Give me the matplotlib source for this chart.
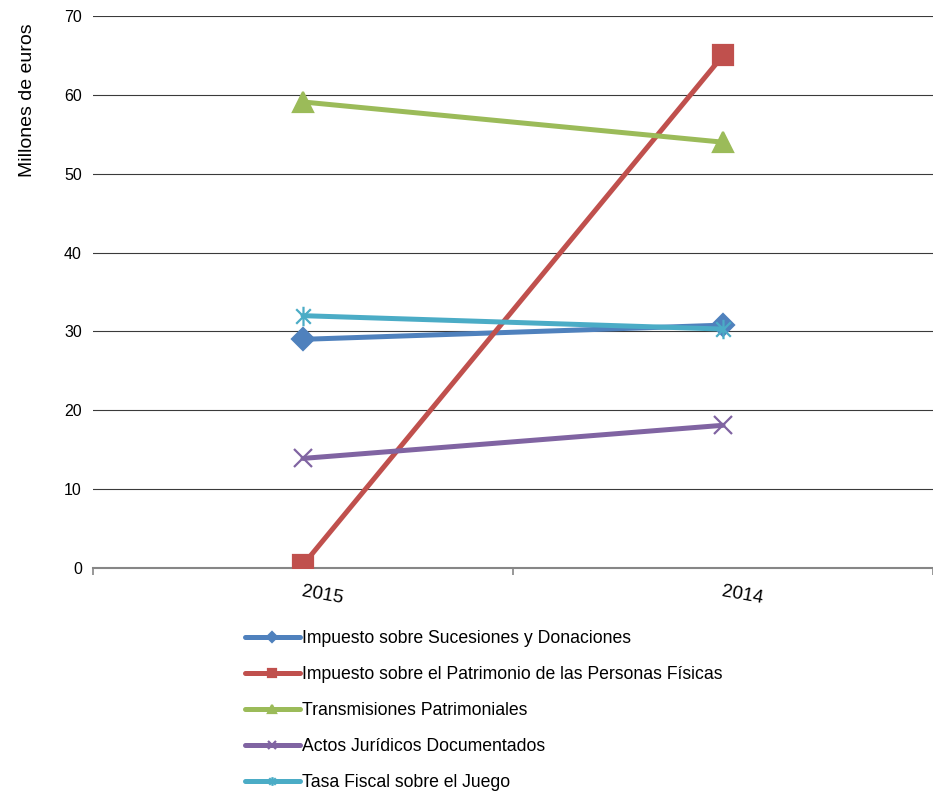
#!/usr/bin/env python3
"""Recaudación por impuesto, 2015 frente a 2014 (millones de euros)."""

import matplotlib
matplotlib.use("Agg")
import matplotlib.pyplot as plt
import numpy as np
from matplotlib.path import Path

plt.rcParams["font.family"] = ["Liberation Sans", "DejaVu Sans"]

years = ["2015", "2014"]
sucesiones = [29.0, 30.8]
patrimonio = [0.4, 65.0]
transmisiones = [59.1, 54.0]
actos_juridicos = [13.9, 18.1]
juego = [32.0, 30.3]

labels = [
    "Impuesto sobre Sucesiones y Donaciones",
    "Impuesto sobre el Patrimonio de las Personas Físicas",
    "Transmisiones Patrimoniales",
    "Actos Jurídicos Documentados",
    "Tasa Fiscal sobre el Juego",
]
colors = ["#4F81BD", "#C0504D", "#9BBB59", "#8064A2", "#4BACC6"]

# Excel-style star: X plus a vertical stroke
star = Path(
    [(0, -1), (0, 1), (-0.75, -0.75), (0.75, 0.75), (-0.75, 0.75), (0.75, -0.75)],
    [Path.MOVETO, Path.LINETO, Path.MOVETO, Path.LINETO, Path.MOVETO, Path.LINETO],
)

series = [sucesiones, patrimonio, transmisiones, actos_juridicos, juego]
markers = ["D", "s", "^", "x", star]
sizes = [11.5, 14, 14, 13, 14]

fig = plt.figure(figsize=(9.33, 7.97), dpi=100)
ax = fig.add_axes([0.0997, 0.2873, 0.9003, 0.6926])

x = np.arange(len(years)) + 0.5
handles = []
for vals, lab, col, mk, ms in zip(series, labels, colors, markers, sizes):
    (h,) = ax.plot(x, vals, color=col, lw=3.6, marker=mk, ms=ms, mew=1.6,
                   mec=col, mfc=col, label=lab, solid_capstyle="round", zorder=3)
    handles.append(h)

ax.set_xlim(0, 2)
ax.set_ylim(0, 70)
ax.set_yticks(np.arange(0, 71, 10))
ax.yaxis.grid(True, color="#3a3a3a", lw=0.8)
ax.set_axisbelow(True)
for side in ("left", "right", "top"):
    ax.spines[side].set_visible(False)
ax.spines["bottom"].set_color("#868686")
ax.spines["bottom"].set_linewidth(1.5)
ax.tick_params(axis="y", length=0, pad=8, labelsize=11.5)

ax.set_xticks([0, 1, 2])
ax.set_xticklabels([])
ax.tick_params(axis="x", length=5, color="#868686", width=1.2)
for xi, yr in zip(x, years):
    ax.text(xi, -1.9, yr, rotation=-10, rotation_mode="anchor", ha="left",
            va="top", fontsize=13.5, transform=ax.transData)

ax.set_ylabel("Millones de euros", fontsize=14)
ax.yaxis.set_label_coords(-0.068, 0.848)

fig.legend(handles=handles, loc="upper left", bbox_to_anchor=(245 / 933, 1 - 630 / 797),
           frameon=False, fontsize=12.7, markerscale=0.45, handlelength=3.1,
           handletextpad=0.15, labelspacing=1.08, borderpad=0, borderaxespad=0)

fig.savefig("out.png", dpi=100)
